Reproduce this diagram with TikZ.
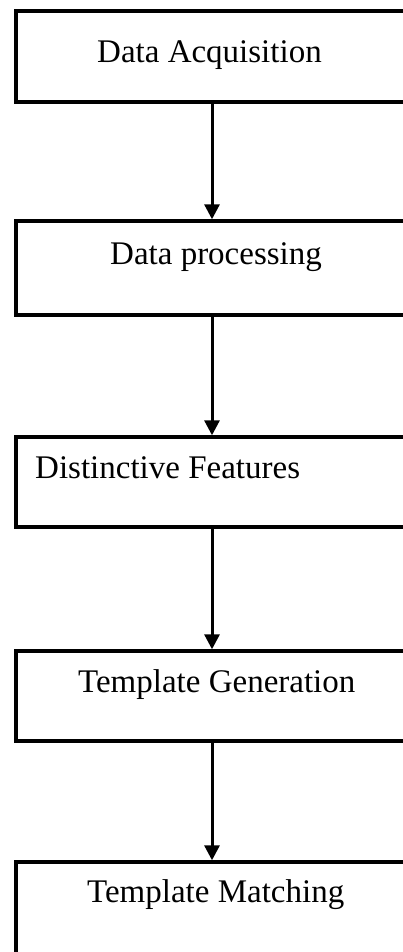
\documentclass[tikz,border=0pt]{standalone}
\usepackage{fontspec}
\setmainfont{Liberation Serif}
\usetikzlibrary{arrows.meta}
\begin{document}
\begin{tikzpicture}[x=1pt,y=-1pt,
  box/.style={draw=black, line width=3.4pt, rectangle, inner sep=0pt, minimum width=392pt},
  lbl/.style={anchor=base west, inner sep=0pt, font=\fontsize{33}{38}\selectfont},
  conn/.style={draw=black, line width=3pt, -{Triangle[length=15pt,width=15pt]}}]
\useasboundingbox (0,0) rectangle (403,952);
\clip (0,0) rectangle (403,952);
\node[box, minimum height=91pt] (b1) at (212,56.5) {};
\node[box, minimum height=94pt] (b2) at (212,268) {};
\node[box, minimum height=90pt] (b3) at (212,482) {};
\node[box, minimum height=90pt] (b4) at (212,696) {};
\node[box, minimum height=100pt] (b5) at (212,912) {};
\node[lbl] (t1) at (97,63) {Data Acquisition};
\node[lbl] (t2) at (110,264) {Data processing};
\node[lbl] (t3) at (35,478) {Distinctive Features};
\node[lbl] (t4) at (78,692) {Template Generation};
\node[lbl] (t5) at (87,902) {Template Matching};
\draw[conn] (b1.south) -- (b2.north);
\draw[conn] (b2.south) -- (b3.north);
\draw[conn] (b3.south) -- (b4.north);
\draw[conn] (b4.south) -- (b5.north);
\end{tikzpicture}
\end{document}
